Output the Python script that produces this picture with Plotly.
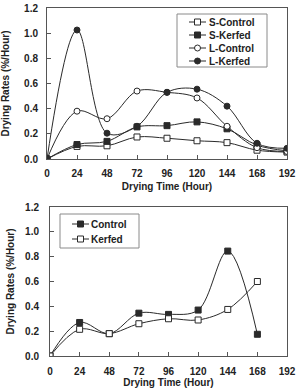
import plotly.graph_objects as go

hours = [0, 24, 48, 72, 96, 120, 144, 168, 192]
s_control = [0.0, 0.10, 0.105, 0.175, 0.165, 0.145, 0.13, 0.07, 0.055]
s_kerfed = [0.0, 0.115, 0.14, 0.255, 0.265, 0.295, 0.24, 0.11, 0.065]
l_control = [0.0, 0.38, 0.32, 0.54, 0.53, 0.485, 0.26, 0.09, 0.06]
l_kerfed = [0.0, 1.025, 0.205, 0.26, 0.53, 0.555, 0.42, 0.125, 0.085]

hours2 = [0, 24, 48, 72, 96, 120, 144, 168]
control2 = [0.0, 0.27, 0.18, 0.345, 0.335, 0.37, 0.845, 0.175]
kerfed2 = [0.0, 0.215, 0.18, 0.26, 0.30, 0.29, 0.375, 0.60]

x_ticks = [0, 24, 48, 72, 96, 120, 144, 168, 192]
y_ticks = [0.0, 0.2, 0.4, 0.6, 0.8, 1.0, 1.2]

top_names = ["S-Control", "S-Kerfed", "L-Control", "L-Kerfed"]
top_symbols = ["square", "square", "circle", "circle"]
top_filled = [False, True, False, True]
bot_names = ["Control", "Kerfed"]
bot_symbols = ["square", "square"]
bot_filled = [True, False]

W, H = 296, 388
FONT = "Liberation Sans, Arial, sans-serif"
LC = "#2a2a2a"
TC = "#222222"

fig = go.Figure()


def style(symbol, filled):
    return dict(
        line=dict(color=LC, width=1, shape="spline", smoothing=1.0),
        marker=dict(symbol=symbol, size=6, color=LC if filled else "white",
                    line=dict(color=LC, width=1)),
    )


top_series = [s_control, s_kerfed, l_control, l_kerfed]
for name, ys, sym, fil in zip(top_names, top_series, top_symbols, top_filled):
    fig.add_trace(go.Scatter(x=hours, y=ys, name=name, mode="lines+markers",
                             xaxis="x", yaxis="y", showlegend=False, **style(sym, fil)))

bot_series = [control2, kerfed2]
for name, ys, sym, fil in zip(bot_names, bot_series, bot_symbols, bot_filled):
    fig.add_trace(go.Scatter(x=hours2, y=ys, name=name, mode="lines+markers",
                             xaxis="x2", yaxis="y2", showlegend=False, **style(sym, fil)))

# ---- custom compact legends drawn on a hidden full-figure pixel axis ----
annotations = []


def legend_box(x0, y0, x1, y1, names, symbols, filled, row_y, sx0, sx1, tx):
    fig.add_trace(go.Scatter(
        x=[x0, x1, x1, x0, x0], y=[y0, y0, y1, y1, y0], mode="lines",
        fill="toself", fillcolor="white", line=dict(color="#8a8a8a", width=1),
        xaxis="x3", yaxis="y3", showlegend=False, hoverinfo="skip"))
    for name, sym, fil, ry in zip(names, symbols, filled, row_y):
        fig.add_trace(go.Scatter(
            x=[sx0, sx1], y=[ry, ry], mode="lines", line=dict(color=LC, width=1),
            xaxis="x3", yaxis="y3", showlegend=False, hoverinfo="skip"))
        fig.add_trace(go.Scatter(
            x=[(sx0 + sx1) / 2], y=[ry], mode="markers",
            marker=dict(symbol=sym, size=6, color=LC if fil else "white",
                        line=dict(color=LC, width=1)),
            xaxis="x3", yaxis="y3", showlegend=False, hoverinfo="skip"))
        annotations.append(dict(
            x=tx, y=ry, xref="x3", yref="y3", text=f"<b>{name}</b>",
            showarrow=False, xanchor="left", yanchor="middle",
            font=dict(family=FONT, size=10, color=TC)))


legend_box(177, 14, 267, 67, top_names, top_symbols, top_filled,
           [22, 35, 48, 61], 189, 206, 207)
legend_box(60, 214, 139, 248, bot_names, bot_symbols, bot_filled,
           [224, 239], 72, 89, 89)


def px_x(p):
    return p / W


def px_y(p):
    return 1 - p / H


axis_common = dict(
    showline=True, linecolor="#555555", linewidth=1, mirror=True,
    ticks="inside", ticklen=4, tickcolor="#555555", showgrid=False, zeroline=False,
    automargin=False,
    tickfont=dict(family=FONT, size=10, color=TC),
    title_font=dict(family=FONT, size=10, color=TC),
)

fig.update_layout(
    width=W, height=H, margin=dict(l=0, r=0, t=0, b=0, autoexpand=False),
    paper_bgcolor="white", plot_bgcolor="rgba(0,0,0,0)",
    font=dict(family=FONT, size=10, color=TC),
    showlegend=False,
    xaxis=dict(domain=[px_x(47), px_x(287)], anchor="y", range=[0, 192],
               tickvals=x_ticks, ticktext=[f"<b>{v}</b>" for v in x_ticks],
               ticklabelstandoff=5,
               title=dict(text="<b>Drying Time (Hour)</b>", standoff=4), **axis_common),
    yaxis=dict(domain=[px_y(159), px_y(8)], anchor="x", range=[0, 1.2],
               tickvals=y_ticks, ticktext=[f"<b>{v:.1f}</b>" for v in y_ticks],
               ticklabelstandoff=6,
               title=dict(text="<b>Drying Rates (%/Hour)</b>", standoff=13), **axis_common),
    xaxis2=dict(domain=[px_x(50), px_x(287)], anchor="y2", range=[0, 192],
                tickvals=x_ticks, ticktext=[f"<b>{v}</b>" for v in x_ticks],
                ticklabelstandoff=6,
                title=dict(text="<b>Drying Time (Hour)</b>", standoff=4), **axis_common),
    yaxis2=dict(domain=[px_y(356), px_y(207)], anchor="x2", range=[0, 1.2],
                tickvals=y_ticks, ticktext=[f"<b>{v:.1f}</b>" for v in y_ticks],
                ticklabelstandoff=8,
                title=dict(text="<b>Drying Rates (%/Hour)</b>", standoff=8), **axis_common),
    xaxis3=dict(domain=[0, 1], anchor="y3", range=[0, W], visible=False, fixedrange=True),
    yaxis3=dict(domain=[0, 1], anchor="x3", range=[H, 0], visible=False, fixedrange=True),
    annotations=annotations,
)

fig.write_html("out.html")
